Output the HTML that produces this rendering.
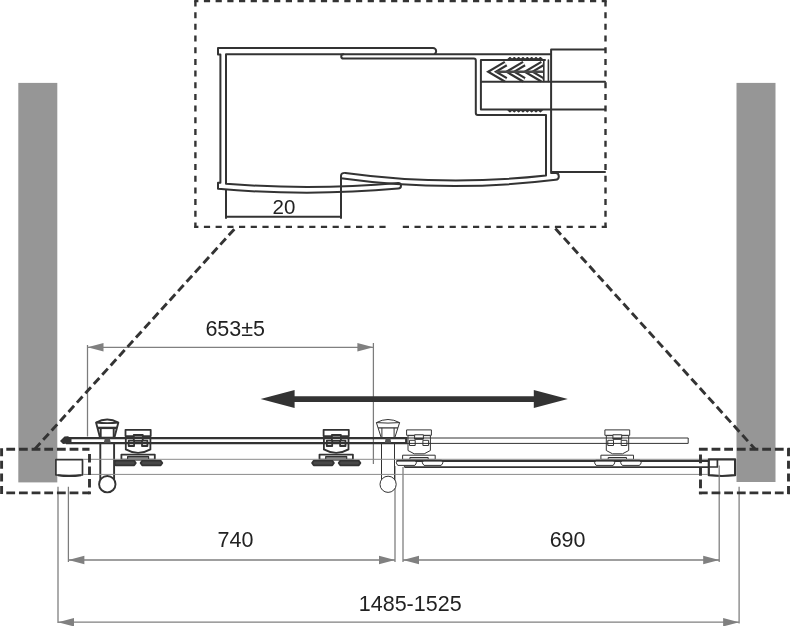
<!DOCTYPE html>
<html lang="en"><head><meta charset="utf-8"><title>Sliding door dimensions</title>
<style>html,body{margin:0;padding:0;background:#fff}body{width:790px;height:626px;overflow:hidden}svg{display:block;will-change:transform}text{font-family:"Liberation Sans",Arial,sans-serif;fill:#222}</style>
</head><body>
<svg width="790" height="626" viewBox="0 0 790 626">
<rect width="790" height="626" fill="#fff"/>
<rect x="18.3" y="82.9" width="39" height="399.5" fill="#969696"/>
<rect x="736.5" y="82.9" width="39" height="399.1" fill="#969696"/>
<g stroke="#7c7c7c" stroke-width="1.25" fill="none">
<path d="M87.5,345 V436.5 M373.4,343 V464"/>
<path d="M58,486.8 V623 M68.4,486.8 V562"/>
<path d="M395,466 V562 M403.0,467 V562"/>
<path d="M739.1,486.8 V623.5"/>
</g>
<g stroke="#808080" stroke-width="1.3" fill="none">
<path d="M87.5,347.3 H373.4 M68.4,560.0 H395 M403.0,560.0 H719.2 M58,622.2 H739.1"/>
</g>
<path d="M87.5,347.3 L103.5,343.0 L103.5,351.6 Z" fill="#808080"/>
<path d="M373.4,347.3 L357.4,343.0 L357.4,351.6 Z" fill="#808080"/>
<path d="M68.4,560.0 L84.4,555.7 L84.4,564.3 Z" fill="#808080"/>
<path d="M395,560.0 L379,555.7 L379,564.3 Z" fill="#808080"/>
<path d="M403.0,560.0 L419.0,555.7 L419.0,564.3 Z" fill="#808080"/>
<path d="M719.2,560.0 L703.2,555.7 L703.2,564.3 Z" fill="#808080"/>
<path d="M58,622.2 L74,617.9000000000001 L74,626.5 Z" fill="#808080"/>
<path d="M739.1,622.2 L723.1,617.9000000000001 L723.1,626.5 Z" fill="#808080"/>
<text x="235.2" y="335.6" font-size="21.5" text-anchor="middle">653±5</text>
<text x="235.5" y="546.6" font-size="21.5" text-anchor="middle">740</text>
<text x="567.6" y="546.6" font-size="21.5" text-anchor="middle">690</text>
<text x="410.2" y="610.8" font-size="21.5" text-anchor="middle">1485-1525</text>
<text x="284" y="213.6" font-size="20.5" text-anchor="middle">20</text>
<path d="M260.6,399.1 L294.6,390.1 V396.3 H533.8 V390.1 L567.8,399.1 L533.8,408.1 V401.9 H294.6 V408.1 Z" fill="#333"/>
<g transform="translate(0,0)" stroke="#333" stroke-width="1" fill="#fff" stroke-linejoin="round"><rect x="406.6" y="429.9" width="24.8" height="5.4"/><path d="M408,435.6 V450.5 L414.2,453.8 H424.2 L430.4,450.5 V435.6 Z"/><rect x="414.6" y="434.8" width="8.8" height="4.2"/><line x1="414.6" y1="438.8" x2="423.4" y2="438.8" stroke-width="1.8"/><rect x="409.5" y="440.3" width="5.7" height="5.2"/><rect x="422.9" y="440.3" width="5.7" height="5.2"/><rect x="402.6" y="455.2" width="32.6" height="4.2"/><rect x="409.9" y="457.5" width="18.3" height="2.2" fill="#ccc"/></g>
<g transform="translate(198.3,0)" stroke="#333" stroke-width="1" fill="#fff" stroke-linejoin="round"><rect x="406.6" y="429.9" width="24.8" height="5.4"/><path d="M408,435.6 V450.5 L414.2,453.8 H424.2 L430.4,450.5 V435.6 Z"/><rect x="414.6" y="434.8" width="8.8" height="4.2"/><line x1="414.6" y1="438.8" x2="423.4" y2="438.8" stroke-width="1.8"/><rect x="409.5" y="440.3" width="5.7" height="5.2"/><rect x="422.9" y="440.3" width="5.7" height="5.2"/><rect x="402.6" y="455.2" width="32.6" height="4.2"/><rect x="409.9" y="457.5" width="18.3" height="2.2" fill="#ccc"/></g>
<g stroke="#333" stroke-width="1" fill="none">
<path d="M407,438 H688.2 V443.4 H407"/>
</g>
<g stroke="#333" fill="none">
<path d="M396.4,461 H708.5" stroke-width="1.8"/>
<path d="M404.4,467.1 H708.5" stroke-width="1.8"/>
<path d="M404.4,465.4 V467" stroke-width="1"/>
</g>
<g transform="translate(0,0)" stroke="#333" stroke-width="1" fill="#fff" stroke-linejoin="round"><path d="M397.8,460.2 H414.9 L416.5,462.8 L414.9,465.4 H397.8 L396.2,462.8 Z"/><path d="M424,460.2 H441.2 L443,462.8 L441.2,465.4 H424 L422.2,462.8 Z"/><line x1="397.2" y1="460.6" x2="415.4" y2="460.6" stroke-width="2"/><line x1="423.4" y1="460.6" x2="441.8" y2="460.6" stroke-width="2"/></g>
<g transform="translate(198.3,0)" stroke="#333" stroke-width="1" fill="#fff" stroke-linejoin="round"><path d="M397.8,460.2 H414.9 L416.5,462.8 L414.9,465.4 H397.8 L396.2,462.8 Z"/><path d="M424,460.2 H441.2 L443,462.8 L441.2,465.4 H424 L422.2,462.8 Z"/><line x1="397.2" y1="460.6" x2="415.4" y2="460.6" stroke-width="2"/><line x1="423.4" y1="460.6" x2="441.8" y2="460.6" stroke-width="2"/></g>
<g stroke="#333" stroke-width="2.2" fill="#fff" stroke-linejoin="round">
<path d="M708.8,459.3 H735.1 V475.2 Q722,476.8 708.8,475.2 Z"/>
<path d="M708.8,467 H717.4 V459.5" fill="none" stroke-width="1.7"/>
</g>
<path d="M719.2,465.5 V562" stroke="#7c7c7c" stroke-width="1.25" fill="none"/>
<g stroke="#333" stroke-width="1.7" fill="#fff" stroke-linejoin="round">
<path d="M55.9,459.7 H82.5 V474.9 Q69,476.5 55.9,474.9 Z"/>
<path d="M58,475.3 Q69,477 81,475.3" fill="none" stroke-width="1.8"/>
</g>
<g transform="translate(0,0)" stroke="#333" stroke-width="1.8" fill="#fff" stroke-linejoin="round"><rect x="125.5" y="429.8" width="25.2" height="6.3"/><path d="M125.8,438 V449.4 Q138.1,456.4 150.4,449.4 V438 Z"/><rect x="133.8" y="435" width="9" height="5.8" /><line x1="133.8" y1="435.4" x2="142.8" y2="435.4" stroke-width="2.4"/><rect x="128.7" y="440.6" width="5.4" height="5.4"/><rect x="142" y="440.6" width="5.4" height="5.4"/><rect x="121.4" y="454.6" width="33.4" height="5"/><rect x="127.6" y="456.6" width="21" height="3" fill="#888" stroke-width="1.2"/><path d="M115.6,460.7 H134.2 L135.8,463 L134.2,465.3 H115.6 L114,463 Z" fill="#484848"/><path d="M142.2,460.7 H160.7 L162.3,463 L160.7,465.3 H142.2 L140.6,463 Z" fill="#484848"/></g>
<g transform="translate(198.1,0)" stroke="#333" stroke-width="1.8" fill="#fff" stroke-linejoin="round"><rect x="125.5" y="429.8" width="25.2" height="6.3"/><path d="M125.8,438 V449.4 Q138.1,456.4 150.4,449.4 V438 Z"/><rect x="133.8" y="435" width="9" height="5.8" /><line x1="133.8" y1="435.4" x2="142.8" y2="435.4" stroke-width="2.4"/><rect x="128.7" y="440.6" width="5.4" height="5.4"/><rect x="142" y="440.6" width="5.4" height="5.4"/><rect x="121.4" y="454.6" width="33.4" height="5"/><rect x="127.6" y="456.6" width="21" height="3" fill="#888" stroke-width="1.2"/><path d="M115.6,460.7 H134.2 L135.8,463 L134.2,465.3 H115.6 L114,463 Z" fill="#484848"/><path d="M142.2,460.7 H160.7 L162.3,463 L160.7,465.3 H142.2 L140.6,463 Z" fill="#484848"/></g>
<g stroke="#333" stroke-width="1.0" fill="#fff" stroke-linejoin="round"><rect x="381.5" y="443.4" width="13.0" height="38" stroke="none"/><path d="M381.5,443.4 V480 M394.5,443.4 V480" fill="none"/><circle cx="388.1" cy="484.3" r="8.1"/><path d="M376.4,422.6 Q388.0,416.4 399.6,422.6 L394.8,437.6 H381.2 Z"/><path d="M376.4,422.6 Q388.0,423.6 399.6,422.6" fill="none"/><path d="M378.09599999999995,427.9 H397.90400000000005" fill="none" stroke-width="1.25"/><path d="M381.9,427.9 V437.6 M394.1,427.9 V437.6" fill="none"/></g>
<g stroke="#333" stroke-width="1.9" fill="#fff" stroke-linejoin="round"><rect x="100.3" y="443.4" width="13.800000000000011" height="38" stroke="none"/><path d="M100.3,443.4 V480 M114.10000000000001,443.4 V480" fill="none"/><circle cx="107.3" cy="484.2" r="8.2"/><path d="M96.05,422.6 Q107.2,416.4 118.35000000000001,422.6 L114.4,437.6 H100.0 Z"/><path d="M96.05,422.6 Q107.2,423.6 118.35000000000001,422.6" fill="none"/><path d="M97.44566666666665,427.9 H116.95433333333335" fill="none" stroke-width="2.375"/><path d="M100.7,427.9 V437.6 M113.7,427.9 V437.6" fill="none"/></g>
<path d="M83,459.3 H708 M83,474.4 H708" stroke="#8a8a8a" stroke-width="1" fill="none"/>
<g stroke="#333" stroke-width="2.2" fill="none">
<path d="M66,438.15 H406.8 M66,443.1 H406.8 M406.2,437.1 V444.2"/>
</g>
<path d="M60,441 L64.5,436.6 L68,436.2 L71.5,438.4 V443.2 L63,444 Z" fill="#333"/>
<path d="M104.8,438.6 H109.8 L110.8,442.8 H103.8 Z M385.6,438.6 H390.4 L391.2,442.8 H384.8 Z" fill="#555"/>
<g stroke="#333" fill="none" stroke-width="2.9">
<path d="M6.3,449.2 H89.5 M6.3,492.9 H89.5" stroke-dasharray="8.8 3.86"/>
<path d="M1.6,448.2 V494.3" stroke-dasharray="8 4.6"/>
<path d="M89.5,453.9 V494.2" stroke-dasharray="8.6 3.9"/>
<path d="M698.9,449.2 H790 M698.9,492.9 H790" stroke-dasharray="8.8 3.86"/>
<path d="M700.5,454.6 V494.2" stroke-dasharray="8.6 3.9"/>
<path d="M788.5,448.2 V494.3" stroke-dasharray="8 4.6"/>
<path d="M234.3,229.2 L34.5,449.4" stroke-width="2.9" stroke-dasharray="8.3 4.25"/>
<path d="M555.4,228.5 L755.2,449.2" stroke-width="2.9" stroke-dasharray="8.3 4.36"/>
</g>
<g stroke="#333" stroke-width="2.4" fill="none">
<path d="M194.3,1.1 H606.6" stroke-dasharray="6.2 5.5" stroke-dashoffset="2.1"/>
<path d="M194.3,226.9 H386" stroke-dasharray="6.2 5.5" stroke-dashoffset="2.1"/>
<path d="M402.8,226.9 H606.6" stroke-dasharray="6.2 5.5"/>
<path d="M195.4,0.5 V228 M605.5,0.5 V228" stroke-dasharray="6 5.68"/>
</g>
<g stroke="#333" stroke-width="2" fill="none" stroke-linejoin="round" stroke-linecap="round">
<path d="M550.7,54.3 H226 V183.8 Q312,190.4 398.2,183 A2.8,2.8 0 0 1 398.2,188.6 Q308,196.6 218,188.8 V182.8 H220.4 V54.5 H218 V48 H433 A3,3 0 0 1 433,54.3"/>
<path d="M343.4,54.3 A2.1,2.1 0 0 0 343.4,58.6 H473.8 Q475.8,58.6 475.8,60.6 V113.1 Q475.8,115.1 477.8,115.1 H546 V175.5 Q445,186.6 345.4,172.9 Q341,172.6 341,176 V218"/>
<path d="M341,178.2 Q448,193 555.6,179.8 Q558.8,179.4 558.8,176.4 Q558.8,173 555.6,173 H551.1"/>
<path d="M226,190 V218 M226,216.8 H341"/>
<path d="M545,59.9 H480.9 V109.5 H605 M480.9,81.7 H605 M551.1,172 V49.4 H605 M551.1,172 H605"/>
<path d="M543.8,60 V81.5 M548.4,60 V81.5" stroke-width="1.6"/>
</g>
<path d="M507.8,59.6 l2.17,-2 l2.17,2 l2.17,-2 l2.17,2 l2.17,-2 l2.17,2 l2.17,-2 l2.17,2 l2.17,-2 l2.17,2 l2.17,-2 l2.17,2 l2.17,-2 l2.17,2 l2.17,-2 l2.17,2" stroke="#333" stroke-width="1.3" fill="#333" stroke-linejoin="round"/>
<path d="M507.8,109.9 l2.17,1.9 l2.17,-1.9 l2.17,1.9 l2.17,-1.9 l2.17,1.9 l2.17,-1.9 l2.17,1.9 l2.17,-1.9 l2.17,1.9 l2.17,-1.9 l2.17,1.9 l2.17,-1.9 l2.17,1.9 l2.17,-1.9 l2.17,1.9 l2.17,-1.9" stroke="#333" stroke-width="1.3" fill="#333" stroke-linejoin="round"/>
<g fill="none" stroke-linejoin="miter">
<path d="M542.4,63.6 L528.7,71.7 L542.4,79.8" stroke="#333" stroke-width="6.2"/>
<path d="M542.4,63.6 L528.7,71.7 L542.4,79.8" stroke="#fff" stroke-width="1.8"/>
<path d="M524.1,63.6 L510.4,71.7 L524.1,79.8" stroke="#333" stroke-width="6.2"/>
<path d="M524.1,63.6 L510.4,71.7 L524.1,79.8" stroke="#fff" stroke-width="1.8"/>
<path d="M505.79999999999995,63.6 L492.09999999999997,71.7 L505.79999999999995,79.8" stroke="#333" stroke-width="6.2"/>
<path d="M505.79999999999995,63.6 L492.09999999999997,71.7 L505.79999999999995,79.8" stroke="#fff" stroke-width="1.8"/>
<path d="M496,71.7 H543" stroke="#484848" stroke-width="2.4"/>
</g>
</svg>
</body></html>
